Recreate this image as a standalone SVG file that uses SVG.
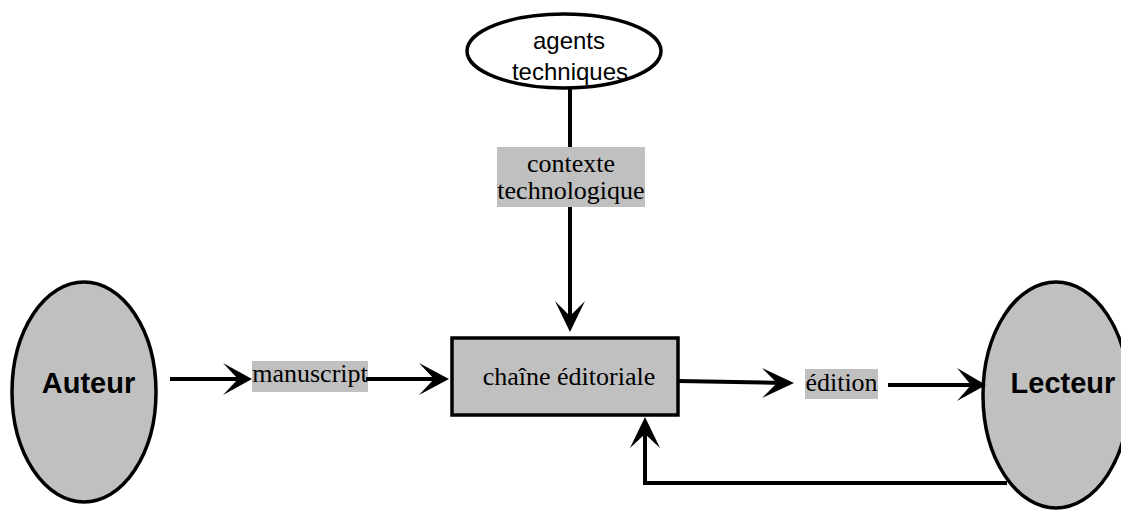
<svg xmlns="http://www.w3.org/2000/svg" width="1121" height="512" viewBox="0 0 1121 512">
<style>
.node{fill:#c0c0c0;stroke:#000;stroke-width:3.5}
.sans{font-family:"Liberation Sans",Arial,sans-serif;fill:#000}
.bold{font-size:29px;font-weight:bold}
.serif{font-family:"Liberation Serif","Times New Roman",serif;fill:#000;font-size:26px}
.lbl{fill:#c0c0c0}
.ln{fill:none;stroke:#000;stroke-width:4}
.ah{fill:#000}
</style>
<rect width="1121" height="512" fill="#fff"/>
<g id="agents">
<ellipse cx="564" cy="51" rx="97" ry="37" fill="#fff" stroke="#000" stroke-width="3.5"/>
<text class="sans" font-size="24" x="569" y="49" text-anchor="middle">agents</text>
<text class="sans" font-size="24" x="570" y="80" text-anchor="middle">techniques</text>
</g>
<g id="auteur">
<ellipse class="node" cx="84" cy="392" rx="72" ry="110"/>
<text class="sans bold" x="88.5" y="393" text-anchor="middle">Auteur</text>
</g>
<g id="chaine">
<rect class="node" x="452" y="338" width="226" height="77" stroke-width="4"/>
<text class="serif" x="569" y="385" text-anchor="middle">chaîne éditoriale</text>
</g>
<g id="lecteur">
<ellipse class="node" cx="1056" cy="395" rx="73" ry="113"/>
<text class="sans bold" x="1063" y="393" text-anchor="middle">Lecteur</text>
</g>
<g id="connectors">
<line class="ln" x1="570" y1="89" x2="570" y2="322"/>
<polygon class="ah" points="570,332 555,301 570,316 585,301"/>
<rect class="lbl" x="497" y="147" width="148" height="60"/>
<text class="serif" x="571" y="172" text-anchor="middle">contexte</text>
<text class="serif" x="571" y="199" text-anchor="middle">technologique</text>

<line class="ln" x1="170" y1="379" x2="242" y2="379"/>
<polygon class="ah" points="252,379 223,363 238,379 223,395"/>
<rect class="lbl" x="252" y="361" width="116" height="31"/>
<text class="serif" x="310" y="382" text-anchor="middle">manuscript</text>
<line class="ln" x1="366" y1="379" x2="440" y2="379"/>
<polygon class="ah" points="449,379 419,363 434,379 419,395"/>

<line class="ln" x1="678" y1="381" x2="785" y2="383" stroke-width="3.5"/>
<polygon class="ah" points="794,383 762,368 777,383 762,398"/>
<rect class="lbl" x="805" y="369" width="73" height="30"/>
<text class="serif" x="841.5" y="391" text-anchor="middle">édition</text>

<line class="ln" x1="888" y1="385" x2="976" y2="385"/>
<polygon class="ah" points="986,385 957,368 971,385 957,401"/>

<polyline class="ln" stroke-width="3.5" points="1007,483 645,483 645,428"/>
<polygon class="ah" points="645,417 630,448 645,434 660,448"/>
</g>
</svg>
